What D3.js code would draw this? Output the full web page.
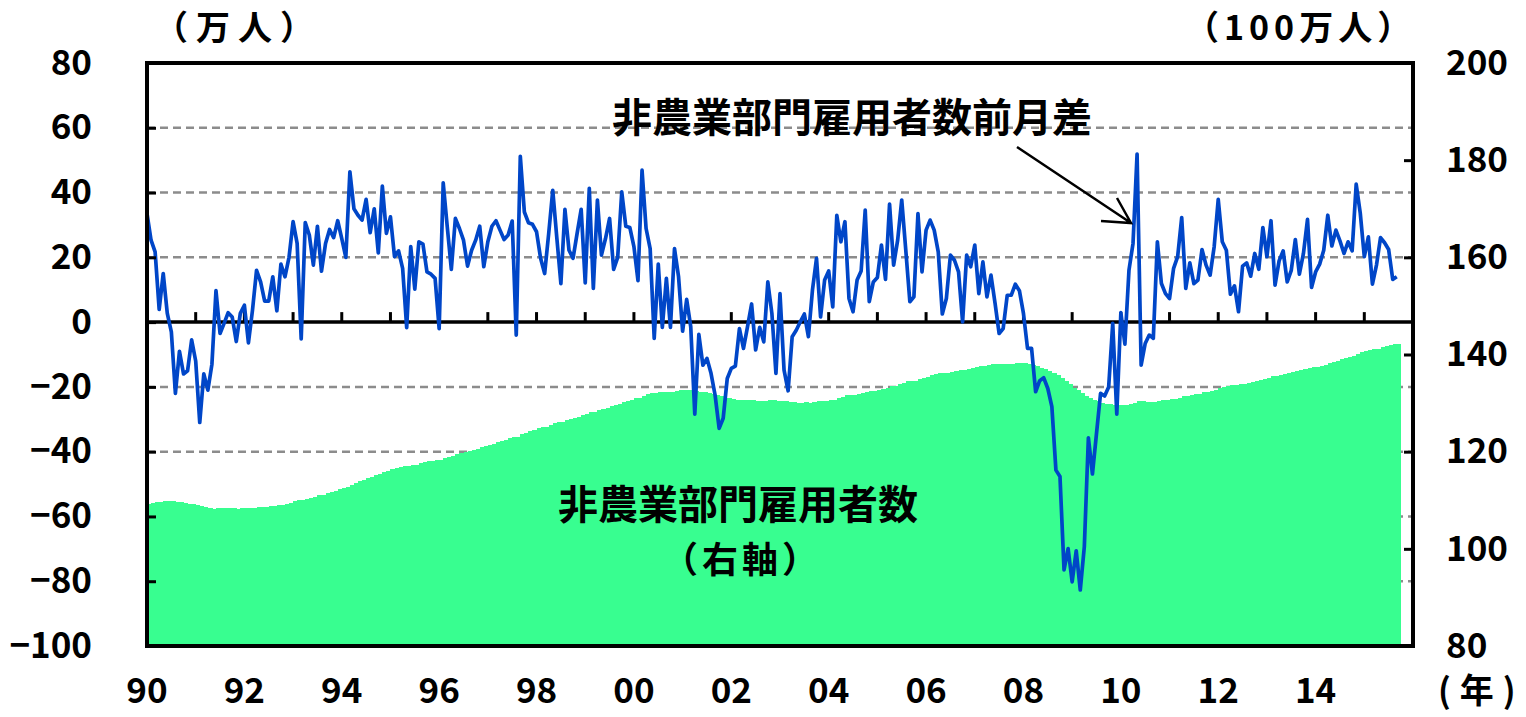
<!DOCTYPE html>
<html>
<head>
<meta charset="utf-8">
<script src="https://cdn.jsdelivr.net/npm/d3@7"></script>
<style>
body { margin: 0; background: #fff; }
text { font-family: "Noto Sans CJK JP", "Noto Sans", sans-serif; font-weight: bold; fill: #000; }
</style>
</head>
<body>
<script>
// monthly data, Jan 1990 - Sep 2015
const startYear = 1990
const yearLabels = ['90','92','94','96','98','00','02','04','06','08','10','12','14']
const leftTicks = [-100,-80,-60,-40,-20,0,20,40,60,80]
const rightTicks = [80,100,120,140,160,180,200]
const gridValues = [60,40,20,-20,-40,-60,-80]

// 前月差 (万人)
const change = [
  33.5,25.3,21.7,3.9,15,2.7,-3,-22,-9,-16,-15,-5.5,
  -12,-31,-16,-21,-13,9.7,-3.5,-0.4,2.9,1.6,-6,2.7,
  5.2,-6.4,3.7,16,12.4,6.5,6.5,14,3.5,17.9,14,20,
  31,24.3,-5.2,30.7,26.9,17.6,29.6,15.7,24.3,28.6,26.1,31.3,
  25.8,20,46.4,35,33,31.5,37.9,27.6,35,21.4,42,27.4,
  32.5,20.2,22,16.6,-1.7,23.3,10.2,24.8,24.1,15.5,14.8,13.5,
  -2,43,29.4,16.3,32,28.9,25.3,17.3,22.2,25.3,29.6,17.1,
  24.8,29.6,31.3,28.4,25.5,26.9,31.2,-4,51.2,34,30.7,30.2,
  27.9,19.7,15,27.4,40.7,26,11.9,34.8,22.2,19.7,27.4,34.8,
  12.1,41.3,10.4,37.7,20.7,25.8,32,16.3,20,40.2,29.6,29.2,
  23.3,12.8,46.9,28.9,22.7,-5,17.9,-1.6,13.5,-1.6,22.7,14,
  -2.8,7,-1.4,-28.4,-3.8,-13.3,-11.2,-15.8,-22.5,-32.8,-29.7,-17.4,
  -14.3,-13.6,-2,-8.1,-1.4,5.6,-8.6,-1.6,-6.1,12.4,2.7,-15.8,
  8.8,-14.8,-21.2,-4.5,-2.5,0.1,2.5,-4.5,9.9,19.7,1.6,13,
  15.8,4.7,33,24.8,31,7.3,3.2,13,15.8,34.6,6.3,12.4,
  13.8,23.8,13.2,36.4,17.6,25.3,37.7,22.2,6.3,7.8,33.5,15.5,
  28.4,31.5,28.4,21.7,2.5,7.3,20.7,19.1,15.5,0.1,20.7,17.1,
  23.8,8.8,18.6,7.8,14.5,5.8,-3.5,-2,8.3,8.3,11.7,9.7,
  2.7,-8.1,-8.1,-21.5,-18.1,-17.2,-20.5,-26.1,-45.7,-47.7,-76.5,-69.9,
  -80.2,-70.6,-82.7,-69.3,-35.7,-46.9,-34.4,-22,-22.8,-20,-0.4,-28.4,
  2.9,-6.8,16,24.3,51.9,-13.3,-6.6,-4,-5,24.8,11.9,8.8,
  7.3,16.6,20.2,32.3,10.4,18.3,11.9,13,22.4,17.6,14.5,23.3,
  37.9,24.8,22.2,8.6,11.2,3.2,17.3,18.3,14.2,21.2,16.3,29.2,
  20.2,31.3,11.4,18.9,22,12.4,16,25.5,14.8,21.2,31.7,10.7,
  15.5,17.9,22.2,33,23.5,28.4,25.1,21.2,24.8,22,42.6,33.7,
  20.2,26.3,11.7,17.6,26.1,24.5,22.4,13.2,14
]

// 雇用者数 (100万人)
const payrolls = [
  109.2,109.45,109.67,109.71,109.86,109.89,109.86,109.64,109.55,109.39,109.24,109.18,
  109.06,108.75,108.59,108.38,108.25,108.35,108.31,108.31,108.34,108.35,108.29,108.32,
  108.37,108.31,108.35,108.51,108.63,108.7,108.76,108.9,108.94,109.12,109.26,109.46,
  109.77,110.01,109.96,110.27,110.54,110.71,111.01,111.17,111.41,111.7,111.96,112.27,
  112.53,112.73,113.19,113.54,113.87,114.19,114.57,114.84,115.19,115.41,115.83,116.1,
  116.43,116.63,116.85,117.01,117,117.23,117.33,117.58,117.82,117.98,118.12,118.26,
  118.24,118.67,118.96,119.13,119.45,119.74,119.99,120.16,120.38,120.64,120.93,121.1,
  121.35,121.65,121.96,122.24,122.5,122.77,123.08,123.04,123.55,123.89,124.2,124.5,
  124.78,124.98,125.13,125.4,125.81,126.07,126.19,126.53,126.76,126.95,127.23,127.57,
  127.69,128.11,128.21,128.59,128.8,129.05,129.37,129.54,129.74,130.14,130.44,130.73,
  130.96,131.09,131.56,131.85,132.07,132.02,132.2,132.19,132.32,132.31,132.53,132.67,
  132.64,132.71,132.7,132.41,132.38,132.24,132.13,131.97,131.75,131.42,131.12,130.95,
  130.81,130.67,130.65,130.57,130.56,130.61,130.53,130.51,130.45,130.58,130.6,130.45,
  130.53,130.38,130.17,130.13,130.1,130.1,130.13,130.08,130.18,130.38,130.39,130.52,
  130.68,130.73,131.06,131.31,131.62,131.69,131.72,131.85,132.01,132.36,132.42,132.54,
  132.68,132.92,133.05,133.42,133.59,133.85,134.22,134.45,134.51,134.59,134.92,135.08,
  135.36,135.68,135.96,136.18,136.2,136.28,136.48,136.68,136.83,136.83,137.04,137.21,
  137.45,137.54,137.72,137.8,137.95,138,137.97,137.95,138.03,138.11,138.23,138.33,
  138.3,138.1,137.9,137.6,137.3,137,136.6,136.2,135.7,135.2,134.6,133.9,
  133.2,132.6,132,131.5,131.1,130.7,130.4,130.1,129.9,129.75,129.65,129.6,
  129.65,129.58,129.74,129.98,130.5,130.37,130.3,130.26,130.21,130.46,130.58,130.67,
  130.74,130.91,131.11,131.43,131.54,131.72,131.84,131.97,132.19,132.37,132.51,132.75,
  133.13,133.38,133.6,133.68,133.8,133.83,134,134.18,134.33,134.54,134.7,134.99,
  135.19,135.51,135.62,135.81,136.03,136.16,136.32,136.57,136.72,136.93,137.25,137.36,
  137.51,137.69,137.91,138.24,138.48,138.76,139.01,139.22,139.47,139.69,140.12,140.46,
  140.66,140.92,141.04,141.21,141.48,141.72,141.95,142.08,142.22
]

const width = 1526, height = 717
const plotLeft = 147, plotRight = 1413, plotTop = 63, plotBottom = 646

const svg = d3.select("body").append("svg")
    .attr("width", width)
    .attr("height", height)

const x = d3.scaleLinear().domain([1990, 2016]).range([plotLeft, plotRight])
const yL = d3.scaleLinear().domain([-100, 80]).range([plotBottom, plotTop])
const yR = d3.scaleLinear().domain([80, 200]).range([plotBottom, plotTop])
const t = i => startYear + i / 12

// gridlines (behind the area)
svg.selectAll(".grid")
    .data(gridValues)
    .enter()
    .append("line")
    .attr("x1", plotLeft).attr("x2", plotRight)
    .attr("y1", d => yL(d)).attr("y2", d => yL(d))
    .style("stroke", "#8c8c8c")
    .style("stroke-width", 2.5)
    .style("stroke-dasharray", "8,5")

// payrolls, one bar per month
svg.append("g")
    .attr("shape-rendering", "crispEdges")
    .selectAll("rect")
    .data(payrolls)
    .enter()
    .append("rect")
    .attr("x", (d, i) => x(t(i)))
    .attr("width", (d, i) => x(t(i + 1)) - x(t(i)) + 0.6)
    .attr("y", d => yR(d))
    .attr("height", d => plotBottom - yR(d))
    .style("fill", "#38fe90")

// zero line
svg.append("line")
    .attr("x1", plotLeft).attr("x2", plotRight)
    .attr("y1", yL(0)).attr("y2", yL(0))
    .style("stroke", "#000")
    .style("stroke-width", 3.5)

// year ticks on zero line
svg.selectAll(".ytick")
    .data(d3.range(1991, 2016))
    .enter()
    .append("line")
    .attr("x1", d => x(d)).attr("x2", d => x(d))
    .attr("y1", yL(0)).attr("y2", yL(0) - 10)
    .style("stroke", "#000")
    .style("stroke-width", 3)

// monthly change line
const line = d3.line()
    .x((d, i) => x(t(i)))
    .y(d => yL(d))

svg.append("path")
    .datum(change)
    .attr("d", line)
    .style("fill", "none")
    .style("stroke", "#0046c8")
    .style("stroke-width", 3.7)
    .style("stroke-linejoin", "round")

// frame
svg.append("rect")
    .attr("x", plotLeft).attr("y", plotTop)
    .attr("width", plotRight - plotLeft).attr("height", plotBottom - plotTop)
    .style("fill", "none")
    .style("stroke", "#000")
    .style("stroke-width", 4)

// left axis
const axL = svg.append("g")
    .attr("transform", `translate(${plotLeft},0)`)
    .call(d3.axisLeft(yL).tickValues(leftTicks).tickSize(-9).tickPadding(55))
axL.select(".domain").remove()
axL.selectAll("line").style("stroke-width", 3)
axL.selectAll("text").style("font-size", "35px").attr("font-family", null)

// right axis
const axR = svg.append("g")
    .attr("transform", `translate(${plotRight},0)`)
    .call(d3.axisRight(yR).tickValues(rightTicks).tickSize(-9).tickPadding(33))
axR.select(".domain").remove()
axR.selectAll("line").style("stroke-width", 3)
axR.selectAll("text").style("font-size", "35px").attr("font-family", null)

// x labels
svg.selectAll(".xl")
    .data(yearLabels)
    .enter()
    .append("text")
    .attr("x", (d, i) => x(1990 + i * 2))
    .attr("y", 691)
    .attr("dy", "0.35em")
    .attr("text-anchor", "middle")
    .style("font-size", "35px")
    .text(d => d)

// unit labels
svg.append("text").attr("x", 154).attr("y", 28).attr("dy", "0.35em")
    .style("font-size", "34px").style("letter-spacing", "8px").text("（万人）")
svg.append("text").attr("x", 1185).attr("y", 28).attr("dy", "0.35em")
    .style("font-size", "34px").style("letter-spacing", "5px").text("（100万人）")
const nen = svg.append("text").attr("x", 1438).attr("y", 691).attr("dy", "0.35em")
    .style("font-size", "34px")
nen.append("tspan").text("(")
nen.append("tspan").attr("dx", 9).text("年")
nen.append("tspan").attr("dx", 9).text(")")

// annotations
svg.append("text").attr("x", 852).attr("y", 118).attr("dy", "0.35em")
    .attr("text-anchor", "middle").style("font-size", "40px").text("非農業部門雇用者数前月差")
svg.append("text").attr("x", 738).attr("y", 505).attr("dy", "0.35em")
    .attr("text-anchor", "middle").style("font-size", "40px").text("非農業部門雇用者数")
svg.append("text").attr("x", 662).attr("y", 560).attr("dy", "0.35em")
    .style("font-size", "36px").style("letter-spacing", "4px").text("（右軸）")

// arrow
svg.append("path")
    .attr("d", "M1017,147L1131,223M1117,198L1131,223L1101,221")
    .style("fill", "none")
    .style("stroke", "#000")
    .style("stroke-width", 2.5)
</script>
</body>
</html>
